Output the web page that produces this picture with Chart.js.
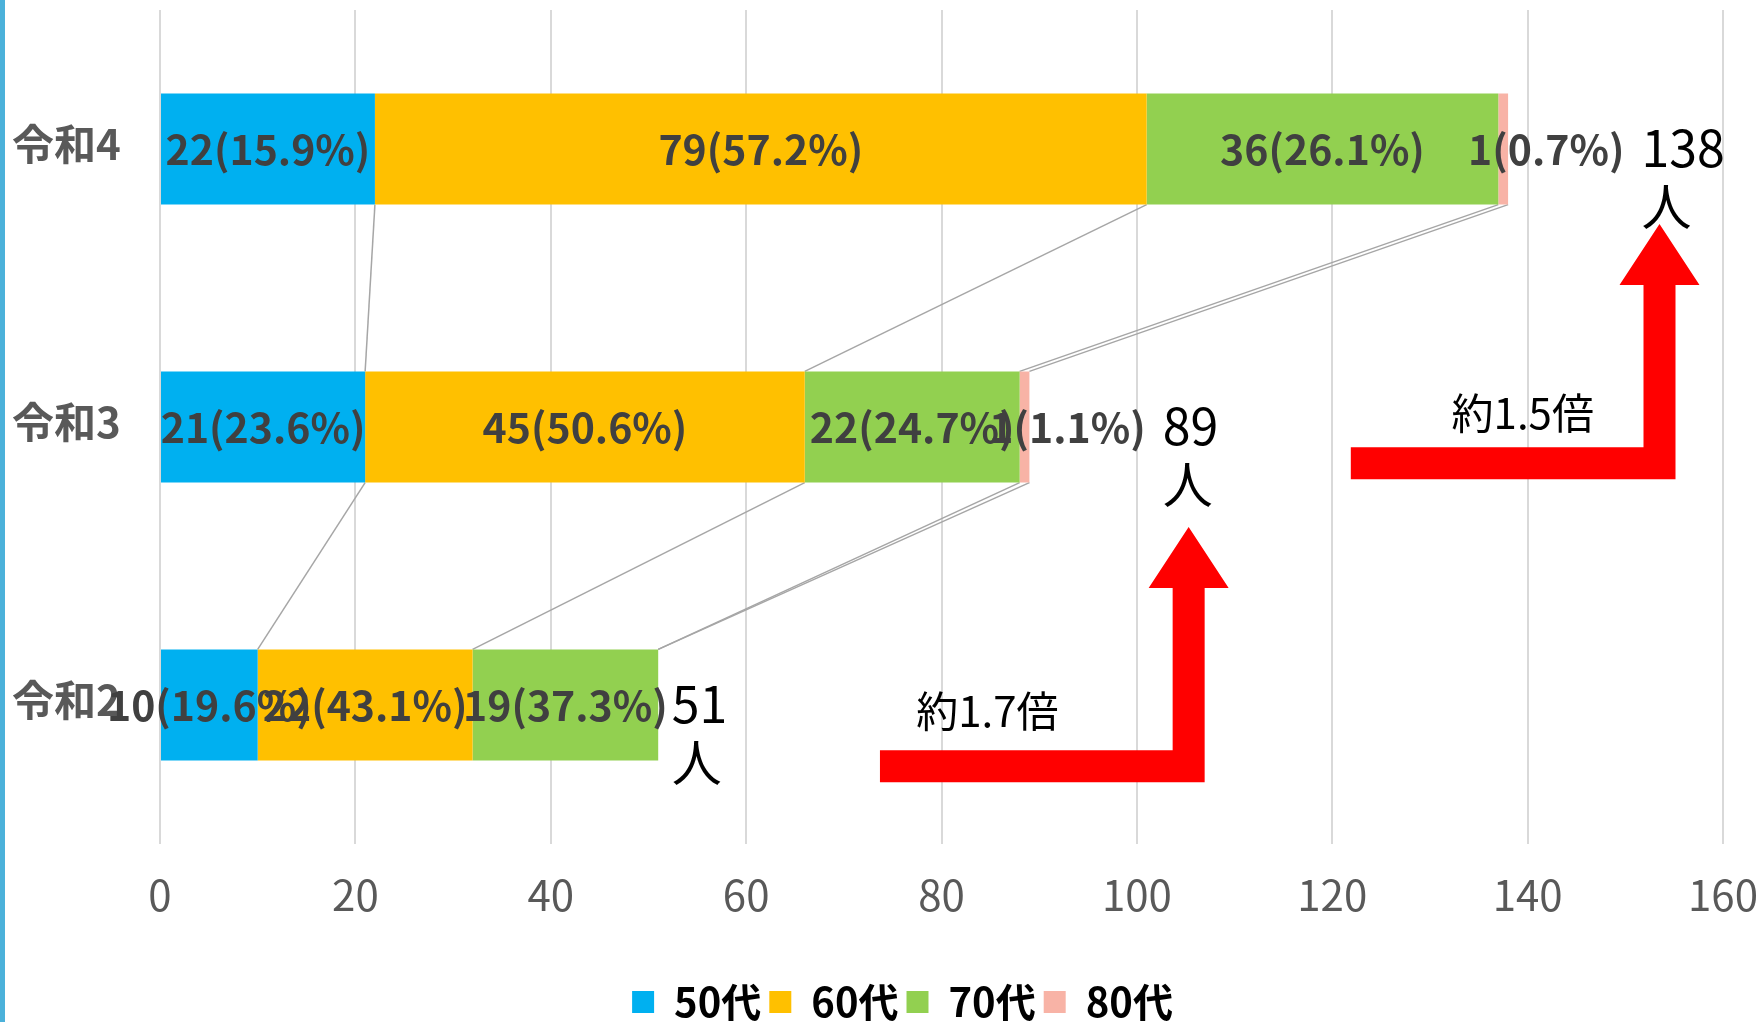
<!DOCTYPE html>
<html lang="ja">
<head>
<meta charset="utf-8">
<script src="https://cdn.jsdelivr.net/npm/chart.js@4.4.1/dist/chart.umd.min.js"></script>
<style>
  html, body { margin: 0; padding: 0; background: #fff; }
  #wrap { position: relative; width: 1762px; height: 1022px; }
  #edge { position: absolute; left: 0; top: 0; width: 5px; height: 1022px; background: #4bb1da; }
</style>
</head>
<body>
<div id="wrap">
  <canvas id="ageChart" width="1762" height="1022"></canvas>
  <div id="edge"></div>
</div>
<script>
// data (top row first)
const years = ['令和4', '令和3', '令和2'];
const ageGroups = ['50代', '60代', '70代', '80代'];
const age50 = [22, 21, 10];
const age60 = [79, 45, 22];
const age70 = [36, 22, 19];
const age80 = [1, 1, 0];
const totals = [138, 89, 51];
const xTicks = [0, 20, 40, 60, 80, 100, 120, 140, 160];
const colors = ['#00b0f0', '#ffc000', '#92d050', '#f8b3a6'];

// red growth arrows: x in people, y in row index
const growthNotes = [
  { text: '約1.7倍', from: 73.7, shaft: 105.3, row: 2.22, tip: 1.36, tx: 84.7, ty: 2.02 },
  { text: '約1.5倍', from: 121.9, shaft: 153.5, row: 1.13, tip: 0.27, tx: 139.5, ty: 0.95 }
];

const FONT = "'Noto Sans CJK JP', 'Noto Sans', sans-serif";

// grey connector lines between the stacked segments of neighbouring rows
const seriesLines = {
  id: 'seriesLines',
  beforeDatasetsDraw(chart) {
    const ctx = chart.ctx;
    ctx.save();
    ctx.strokeStyle = '#a6a6a6';
    ctx.lineWidth = 1.5;
    chart.data.datasets.forEach((ds, di) => {
      const bars = chart.getDatasetMeta(di).data;
      for (let r = 0; r < bars.length - 1; r++) {
        const a = bars[r], b = bars[r + 1];
        ctx.beginPath();
        ctx.moveTo(a.x, a.y + a.height / 2);
        ctx.lineTo(b.x, b.y - b.height / 2);
        ctx.stroke();
      }
    });
    ctx.restore();
  }
};

// "n(xx.x%)" labels, totals and the arrows
const annotations = {
  id: 'annotations',
  afterDatasetsDraw(chart) {
    const ctx = chart.ctx;
    const xs = chart.scales.x, ys = chart.scales.y;
    const rightEdge = totals.map(() => 0);
    const lastSet = totals.map(() => 0);
    ctx.save();
    ctx.font = `bold 41px ${FONT}`;
    ctx.fillStyle = '#404040';
    ctx.textAlign = 'center';
    ctx.textBaseline = 'middle';
    chart.data.datasets.forEach((ds, di) => {
      chart.getDatasetMeta(di).data.forEach((bar, i) => {
        const v = ds.data[i];
        if (!v) return;
        const txt = `${v}(${(v / totals[i] * 100).toFixed(1)}%)`;
        const cx = (bar.x + bar.base) / 2 + (di === 3 ? 43 : 0);
        ctx.fillText(txt, cx, bar.y);
        rightEdge[i] = Math.max(rightEdge[i], cx + ctx.measureText(txt).width / 2);
        lastSet[i] = di;
      });
    });

    ctx.font = `50px ${FONT}`;
    ctx.fillStyle = '#000';
    ctx.textAlign = 'left';
    totals.forEach((t, i) => {
      const y = ys.getPixelForValue(i);
      const x = rightEdge[i] + (lastSet[i] === 3 ? 17 : 4);
      ctx.fillText(String(t), x, y - 1);
      ctx.fillText('人', x, y + 57);
    });

    growthNotes.forEach(n => {
      const x0 = xs.getPixelForValue(n.from);
      const xc = xs.getPixelForValue(n.shaft);
      const yr = ys.getPixelForValue(n.row);
      const yt = ys.getPixelForValue(n.tip);
      const t = 32, hw = 40, hl = 61;
      ctx.beginPath();
      ctx.moveTo(x0, yr - t / 2);
      ctx.lineTo(xc - t / 2, yr - t / 2);
      ctx.lineTo(xc - t / 2, yt + hl);
      ctx.lineTo(xc - hw, yt + hl);
      ctx.lineTo(xc, yt);
      ctx.lineTo(xc + hw, yt + hl);
      ctx.lineTo(xc + t / 2, yt + hl);
      ctx.lineTo(xc + t / 2, yr + t / 2);
      ctx.lineTo(x0, yr + t / 2);
      ctx.closePath();
      ctx.fillStyle = '#ff0000';
      ctx.fill();

      ctx.font = `42px ${FONT}`;
      ctx.fillStyle = '#000';
      ctx.textAlign = 'center';
      ctx.fillText(n.text, xs.getPixelForValue(n.tx), ys.getPixelForValue(n.ty));
    });
    ctx.restore();
  }
};

const seriesData = [age50, age60, age70, age80];

new Chart(document.getElementById('ageChart'), {
  type: 'bar',
  data: {
    labels: years,
    datasets: ageGroups.map((name, i) => ({
      label: name,
      data: seriesData[i],
      backgroundColor: colors[i],
      borderWidth: 0,
      barPercentage: 0.4,
      categoryPercentage: 1
    }))
  },
  options: {
    indexAxis: 'y',
    responsive: false,
    animation: false,
    layout: { padding: { left: 82, top: 10, right: 39, bottom: -10 } },
    plugins: {
      tooltip: { enabled: false },
      legend: {
        position: 'bottom',
        labels: {
          boxWidth: 22,
          boxHeight: 22,
          padding: 8,
          color: '#000',
          font: { family: FONT, size: 40, weight: 'bold' }
        }
      }
    },
    scales: {
      x: {
        stacked: true,
        min: 0,
        max: 160,
        afterBuildTicks: s => { s.ticks = xTicks.map(v => ({ value: v })); },
        afterFit: s => {
          s.paddingLeft = 0;
          s.paddingRight = 0;
          const lg = s.chart.legend ? s.chart.legend.height : 0;
          s.height = Math.max(s.height, 1022 + 10 - 844 - lg);
        },
        ticks: { color: '#595959', padding: 26, font: { family: FONT, size: 42 } },
        grid: { color: '#d9d9d9', lineWidth: 2, drawTicks: false },
        border: { display: false }
      },
      y: {
        stacked: true,
        afterFit: s => { s.width = 78; s.paddingTop = 0; s.paddingBottom = 0; },
        // mirrored so the labels are not clipped to the narrow axis box
        ticks: { mirror: true, padding: -148, labelOffset: -5, color: '#595959', font: { family: FONT, size: 42, weight: 'bold' } },
        grid: { display: false },
        border: { display: false }
      }
    }
  },
  plugins: [seriesLines, annotations]
});
</script>
</body>
</html>
